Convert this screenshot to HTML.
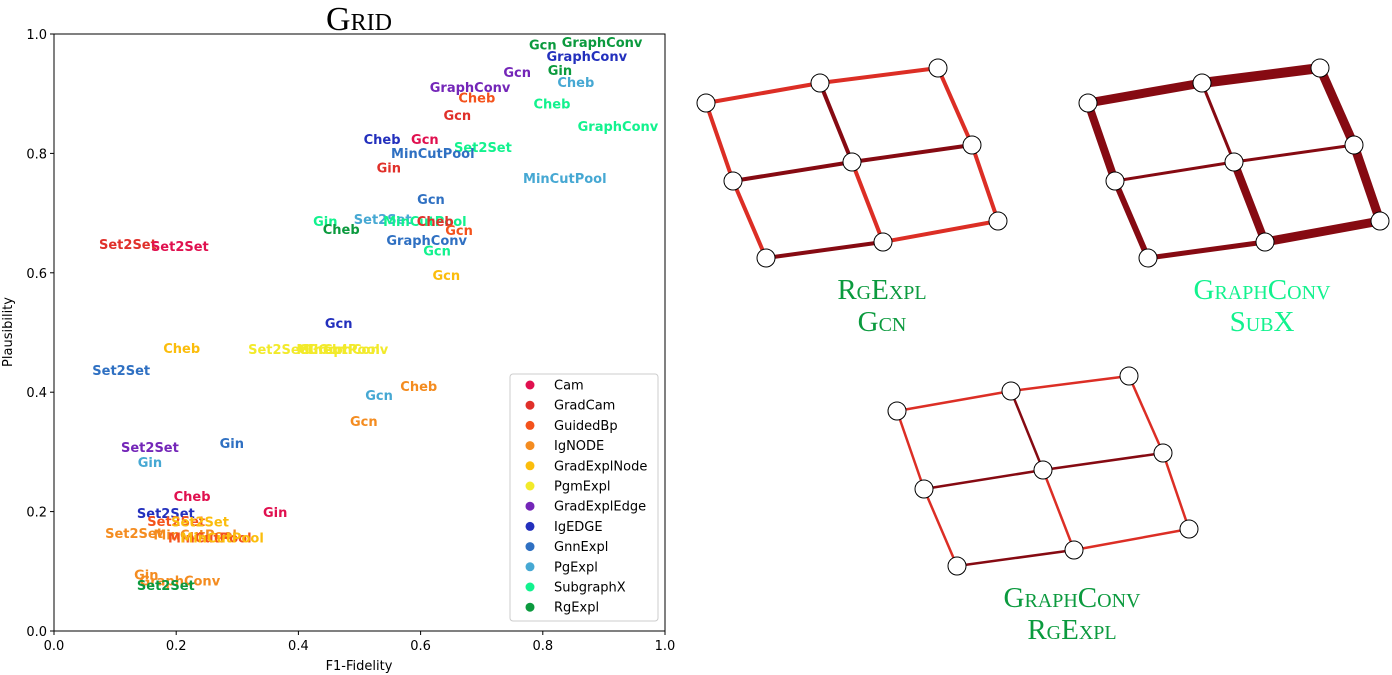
<!DOCTYPE html>
<html><head><meta charset="utf-8"><style>
html,body{margin:0;padding:0;background:#fff;width:1392px;height:675px;overflow:hidden}
svg{display:block}
.t{font-family:"DejaVu Sans","Liberation Sans",sans-serif}
.sc{font-family:"Liberation Serif","DejaVu Serif",serif;font-variant:small-caps}
</style></head><body>
<svg id="chart" width="1392" height="675" xmlns="http://www.w3.org/2000/svg"></svg>
<script>
const explainers=["Cam","GradCam","GuidedBp","IgNODE","GradExplNode","PgmExpl","GradExplEdge","IgEDGE","GnnExpl","PgExpl","SubgraphX","RgExpl"];
const colors=["#e0104f","#e0302a","#f4521c","#f48c20","#fbbd0c","#f2ea2a","#7426b8","#2330bd","#2f70c2","#46a8d3","#12f28e","#0b9a3e"];
const labels=["Gcn","GraphConv","GraphConv","Gcn","Gin","Cheb","GraphConv","Cheb","Cheb","GraphConv","Gcn","Cheb","Gcn","Set2Set","MinCutPool","Gin","MinCutPool","Gcn","Gin","Set2Set","MinCutPool","Cheb","Cheb","Gcn","GraphConv","Gcn","Gcn",
"Set2Set","Set2Set","Gcn","Cheb","Set2Set","Gin","Cheb","Gcn","MinCutPool","GraphConv","Set2Set","Cheb","Gcn","Gcn","Set2Set","Gin","Gin","Cheb","Set2Set","Gin","Set2Set","Set2Set","Set2Set","MinCutPool","MinCutPool","MinCutPool","Gin","GraphConv","Set2Set"];
const series=[11,11,7,6,11,9,6,2,10,10,1,7,0,10,8,1,9,8,10,9,10,1,11,2,8,10,4,
1,0,7,4,5,5,5,5,5,5,8,3,9,3,6,8,9,0,7,0,2,4,3,3,2,4,3,3,11];
const xs=[.80,.897,.872,.758,.828,.854,.681,.692,.815,.923,.660,.537,.607,.702,.620,.548,.836,.617,.444,.538,.607,.624,.470,.663,.610,.627,.642,
.121,.206,.466,.209,.365,.42,.44,.455,.465,.481,.110,.597,.532,.507,.157,.291,.157,.226,.183,.362,.200,.239,.131,.231,.255,.275,.151,.206,.183];
const ys=[.982,.987,.963,.936,.940,.920,.911,.894,.884,.846,.864,.824,.824,.811,.801,.776,.759,.724,.687,.690,.687,.687,.673,.672,.655,.637,.596,
.648,.645,.516,.474,.472,.472,.472,.472,.472,.472,.437,.410,.395,.352,.308,.315,.283,.226,.198,.199,.184,.183,.164,.162,.157,.157,.095,.085,.077];
const xticks=[0,0.2,0.4,0.6,0.8,1.0];
const yticks=[0,0.2,0.4,0.6,0.8,1.0];
const svg=document.getElementById('chart');
const NS="http://www.w3.org/2000/svg";
function mk(tag,attrs,parent){const e=document.createElementNS(NS,tag);for(const k in attrs)e.setAttribute(k,attrs[k]);(parent||svg).appendChild(e);return e;}
const X0=54,X1=665,Y0=631,Y1=34;
const sx=v=>X0+v*(X1-X0), sy=v=>Y0-v*(Y0-Y1);
let e=mk('text',{x:359,y:30,'text-anchor':'middle','font-size':34,class:'sc',fill:'#000'});e.textContent='Grid';


e=mk('rect',{x:X0,y:Y1,width:X1-X0,height:Y0-Y1,fill:'none',stroke:'#000','stroke-width':1});


xticks.forEach(v=>{
  mk('line',{x1:sx(v),x2:sx(v),y1:Y0,y2:Y0+4,stroke:'#000'});
  const t=mk('text',{x:sx(v),y:Y0+19,'text-anchor':'middle','font-size':13,class:'t'});t.textContent=v.toFixed(1);
  
  
});
yticks.forEach(v=>{
  mk('line',{x1:X0-4,x2:X0,y1:sy(v),y2:sy(v),stroke:'#000'});
  const t=mk('text',{x:X0-7,y:sy(v)+5,'text-anchor':'end','font-size':13,class:'t'});t.textContent=v.toFixed(1);
  
  
});
e=mk('text',{x:359,y:670,'text-anchor':'middle','font-size':13,class:'t'});e.textContent='F1-Fidelity';


e=mk('text',{x:12,y:332,'text-anchor':'middle','font-size':13,class:'t',transform:'rotate(-90 12 332)'});e.textContent='Plausibility';


labels.forEach((l,i)=>{
  const t=mk('text',{x:sx(xs[i]),y:sy(ys[i])+5,'text-anchor':'middle','font-size':13,'font-weight':'bold',class:'t',fill:colors[series[i]]});
  t.textContent=l;
  
  
});
const lg=mk('g',{});


mk('rect',{x:510,y:374,width:148,height:247,rx:3,fill:'#fff',stroke:'#ccc'},lg);
explainers.forEach((n,i)=>{
  const y=385+i*20.2;
  const c=mk('circle',{cx:530,cy:y,r:4.5,fill:colors[i]},lg);
  
  
  const t=mk('text',{x:554,y:y+4.5,'font-size':13,class:'t',fill:'#000'},lg);t.textContent=n;
  
  
});
const edges=[[0,1],[1,2],[3,4],[4,5],[6,7],[7,8],[0,3],[3,6],[1,4],[4,7],[2,5],[5,8]];
const L='#dc2e25',D='#860a12';
function graph(nodes,ecol,ew,name){
  const g=mk('g',{});
  
  
  edges.forEach((ed,i)=>{
    const a=nodes[ed[0]],b=nodes[ed[1]];
    mk('line',{x1:a[0],y1:a[1],x2:b[0],y2:b[1],stroke:ecol[i],'stroke-width':ew[i]},g);
  });
  nodes.forEach(p=>{const c=mk('circle',{cx:p[0],cy:p[1],r:9,fill:'#fff',stroke:'#000','stroke-width':1},g);
    
    });
}
const base=[[0,0],[114,-20],[232,-35],[27,78],[146,59],[266,42],[60,155],[177,139],[292,118]];
const off=(dx,dy)=>base.map(p=>[p[0]+dx,p[1]+dy]);
const c1=[L,L,D,D,D,L,L,L,D,L,L,L];
graph(off(706,103),c1,[4,4,4,4,4,4,4,4,4,4,4,4],'graph-rgexpl-gcn');
graph(off(1088,103),Array(12).fill(D),[9,10,3,3,5,9,8,6,3,8,9,9],'graph-graphconv-subx');
graph(off(897,411),c1,[2.5,2.5,2.5,2.5,2.5,2.5,2.5,2.5,2.5,2.5,2.5,2.5],'graph-graphconv-rgexpl');
function cap(x,y,s,col,name){const t=mk('text',{x:x,y:y,'text-anchor':'middle','font-size':29,class:'sc',fill:col});t.textContent=s;
  
  }
cap(882,299,'RgExpl','#0b9a3e','caption-explainer-1');cap(882,331,'Gcn','#0b9a3e','caption-model-1');
cap(1262,299,'GraphConv','#12f28e','caption-model-2');cap(1262,331,'SubX','#12f28e','caption-explainer-2');
cap(1072,607,'GraphConv','#0b9a3e','caption-model-3');cap(1072,639,'RgExpl','#0b9a3e','caption-explainer-3');
</script>
</body></html>
